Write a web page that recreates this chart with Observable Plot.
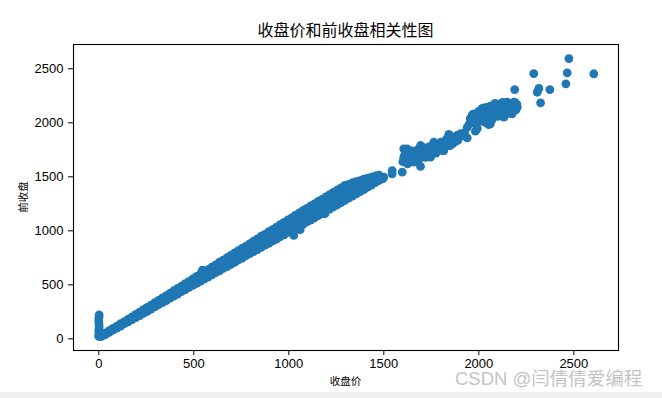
<!DOCTYPE html>
<html><head><meta charset="utf-8">
<script src="https://cdn.jsdelivr.net/npm/d3@7"></script>
<script src="https://cdn.jsdelivr.net/npm/@observablehq/plot@0.6"></script>
<style>
body{margin:0;background:#fff;}
#wrap{position:relative;width:662px;height:398px;overflow:hidden;background:#fff;}
#title{position:absolute;left:73px;width:545px;top:19px;text-align:center;font-family:"Noto Sans CJK SC",sans-serif;font-size:16px;line-height:20px;color:#000;}
#xlabel{position:absolute;left:73px;width:545px;top:374px;text-align:center;font-family:"Noto Sans CJK SC",sans-serif;font-size:10.5px;line-height:14px;color:#000;}
#ylabel{position:absolute;left:23px;top:197px;transform:translate(-50%,-50%) rotate(-90deg);font-family:"Noto Sans CJK SC",sans-serif;font-size:10.5px;line-height:14px;color:#000;white-space:nowrap;}
#mark{position:absolute;left:455px;top:367px;font-family:"Liberation Sans","Noto Sans CJK SC",sans-serif;font-size:18.5px;line-height:24px;color:#c4c4c4;white-space:nowrap;}
#strip{position:absolute;left:0;top:392px;width:662px;height:6px;background:#efefef;}
#chart{position:absolute;left:0;top:0;}
</style>
</head><body>
<div id="wrap">
<div id="chart"></div>
<div id="title">收盘价和前收盘相关性图</div>
<div id="ylabel">前收盘</div>
<div id="xlabel">收盘价</div>
<div id="mark">CSDN @闫倩倩爱编程</div>
<div id="strip"></div>
</div>
<script>
const xTicks = [0, 500, 1000, 1500, 2000, 2500];
const yTicks = [0, 500, 1000, 1500, 2000, 2500];

// 收盘价 (close) and 前收盘 (previous close)
const nearZeroClose = [0, 1, 0, 2, 1, 0, 1, 2, 1, 3, 6, 10];
const nearZeroPrev  = [22, 50, 80, 110, 140, 170, 200, 222, 35, 28, 26, 24];

const bandClose = [
  15, 15, 35, 35, 55, 55, 75, 75, 95, 95,
  115, 115, 135, 135, 155, 155, 175, 175, 195, 195,
  215, 215, 235, 235, 255, 255, 275, 275, 295, 295,
  315, 315, 335, 335, 355, 355, 375, 375, 395, 395,
  415, 415, 435, 435, 455, 455, 475, 475, 495, 495,
  515, 515, 535, 535, 555, 555, 575, 575, 595, 595,
  615, 615, 635, 635, 655, 655, 675, 675, 695, 695,
  715, 715, 735, 735, 755, 755, 775, 775, 795, 795,
  815, 815, 835, 835, 855, 855, 875, 875, 895, 895,
  915, 915, 935, 935, 955, 955, 975, 975, 995, 995,
  1015, 1015, 1035, 1035, 1055, 1055, 1075, 1075, 1095, 1095,
  1115, 1115, 1135, 1135, 1155, 1155, 1175, 1175, 1195, 1195,
  1215, 1215, 1235, 1235, 1255, 1255, 1275, 1275, 1295, 1295,
  1315, 1315, 1335, 1335, 1355, 1355, 1375, 1375, 1395, 1395,
  1415, 1415, 1435, 1435, 1455, 1455, 1475, 1475, 1495, 1500
];
const bandPrev = [
  35, 22, 55, 40, 76, 60, 97, 80, 118, 100,
  140, 118, 160, 140, 182, 158, 203, 178, 226, 196,
  248, 215, 270, 236, 292, 255, 312, 276, 335, 295,
  356, 316, 380, 336, 400, 354, 422, 377, 445, 396,
  468, 414, 488, 437, 512, 456, 532, 476, 556, 495,
  578, 514, 600, 532, 622, 553, 640, 572, 664, 592,
  685, 612, 708, 630, 728, 652, 752, 668, 772, 690,
  795, 708, 816, 730, 840, 748, 858, 770, 882, 788,
  905, 808, 925, 826, 950, 846, 968, 868, 992, 884,
  1012, 906, 1035, 922, 1058, 945, 1078, 962, 1100, 985,
  1120, 1002, 1145, 1020, 1165, 1042, 1188, 1060, 1208, 1082,
  1230, 1100, 1250, 1120, 1272, 1140, 1292, 1160, 1315, 1180,
  1335, 1200, 1356, 1222, 1378, 1240, 1398, 1262, 1420, 1282,
  1430, 1302, 1445, 1322, 1455, 1342, 1465, 1362, 1478, 1382,
  1488, 1405, 1498, 1424, 1508, 1446, 1515, 1466, 1482, 1497
];

const midClose = [
  295, 315, 335, 355, 375, 395, 415, 435, 455, 475,
  495, 515, 535, 555, 575, 595, 615, 635, 655, 675,
  695, 715, 735, 755, 775, 795, 815, 835, 855, 875,
  895, 915, 935, 955, 975, 995, 1015, 1035, 1055, 1075,
  1095, 1115, 1135, 1155, 1175, 1195, 1215, 1235, 1255, 1275,
  1295, 1315, 1335, 1355, 1375, 1395, 1415, 1435, 1455, 1475,
  545, 640, 728, 820, 905, 1026, 1060, 1190, 1280
];
const midPrev = [
  315, 336, 358, 377, 400, 420, 441, 462, 484, 504,
  525, 546, 566, 588, 606, 628, 648, 669, 690, 710,
  731, 752, 773, 794, 814, 835, 856, 876, 898, 918,
  938, 959, 978, 1002, 1020, 1042, 1061, 1082, 1104, 1124,
  1145, 1165, 1185, 1206, 1226, 1248, 1268, 1289, 1309, 1330,
  1351, 1366, 1384, 1398, 1413, 1430, 1446, 1461, 1477, 1490,
  635, 712, 790, 905, 975, 958, 1010, 1158, 1345
];

const upperClose = [
  1544, 1544, 1597, 1605, 1605, 1623, 1693, 1763, 1842, 1886,
  1658, 1693, 1746, 1807, 1869, 1610, 1630, 1640, 1660, 1670,
  1680, 1700, 1710, 1720, 1735, 1750, 1760, 1770, 1785, 1800,
  1810, 1820, 1835, 1845, 1855, 1865, 1880, 1890, 1900, 1939,
  1939, 1965, 1991, 2009, 2044, 2061, 2096, 2132, 2149, 2175,
  2202, 2184, 2105, 2079, 2035, 1991, 1974, 1991, 2026, 2061,
  2052, 2114, 2009, 1982, 1950, 1960, 1975, 1985, 2000, 2010,
  2020, 2030, 2045, 2055, 2065, 2080, 2090, 2100, 2110, 2120,
  2135, 2145, 2160, 2170, 2185, 2195, 2160, 2100,
  1600, 1615, 1625, 1640, 1650, 1655, 1670, 1685, 1690, 1705,
  1715, 1725, 1740, 1745, 1755, 1770, 1775, 1790, 1800, 1805,
  1815, 1825, 1830, 1840, 1850, 1860, 1870, 1880, 1895, 1905,
  1915, 1925, 1955, 1970, 1995, 2015, 2040, 2070, 2085, 2125,
  2140, 2150, 2180, 2200, 2190, 2025
];
const upperPrev = [
  1528, 1558, 1543, 1682, 1759, 1759, 1790, 1821, 1892, 1883,
  1636, 1596, 1682, 1744, 1821, 1700, 1660, 1720, 1690, 1740,
  1650, 1720, 1770, 1680, 1740, 1710, 1790, 1740, 1770, 1750,
  1800, 1770, 1830, 1790, 1850, 1810, 1860, 1840, 1880, 1861,
  1960, 2068, 1944, 2052, 2145, 1991, 2114, 2052, 2191, 2083,
  2145, 2191, 2160, 2114, 2068, 2021, 2046, 1953, 2139, 2154,
  1984, 2123, 2077, 1923, 1990, 2030, 2000, 2060, 2020, 2090,
  2050, 2110, 2080, 2140, 2100, 2150, 2090, 2130, 2170, 2100,
  2150, 2120, 2170, 2130, 2160, 2120, 2090, 2060,
  1640, 1700, 1620, 1670, 1740, 1640, 1700, 1760, 1670, 1700,
  1750, 1700, 1780, 1720, 1750, 1800, 1720, 1760, 1820, 1780,
  1740, 1800, 1850, 1810, 1790, 1870, 1840, 1830, 1870, 1900,
  1880, 1910, 2040, 2080, 2100, 2130, 2000, 2030, 2180, 2190,
  2080, 2160, 2110, 2170, 2190, 2010
];

const outlierClose = [2474, 2289, 2465, 2605, 2189, 2316, 2307, 2374, 2458, 2325];
const outlierPrev  = [2595, 2456, 2463, 2454, 2308, 2318, 2283, 2308, 2361, 2185];

const closeAll = [...nearZeroClose, ...bandClose, ...midClose, ...upperClose, ...outlierClose];
const prevAll  = [...nearZeroPrev, ...bandPrev, ...midPrev, ...upperPrev, ...outlierPrev];
const data = closeAll.map((c, i) => ({close: c, prev: prevAll[i]}));

const chart = Plot.plot({
  width: 662,
  height: 398,
  marginLeft: 73,
  marginRight: 44,
  marginTop: 44,
  marginBottom: 48,
  x: {domain: [-133, 2735], ticks: xTicks, tickSize: 5, tickPadding: 3, tickFormat: "d", label: null},
  y: {domain: [-108, 2725], ticks: yTicks, tickSize: 5, tickPadding: 5, tickFormat: "d", label: null},
  style: {fontFamily: "'Liberation Sans', sans-serif", fontSize: "13px", color: "#000", background: "transparent"},
  marks: [
    Plot.dot(data, {x: "close", y: "prev", r: 4.4, fill: "#1f77b4"}),
    Plot.frame({stroke: "#000", strokeWidth: 1.1})
  ]
});
document.getElementById("chart").appendChild(chart);
</script>
</body></html>
